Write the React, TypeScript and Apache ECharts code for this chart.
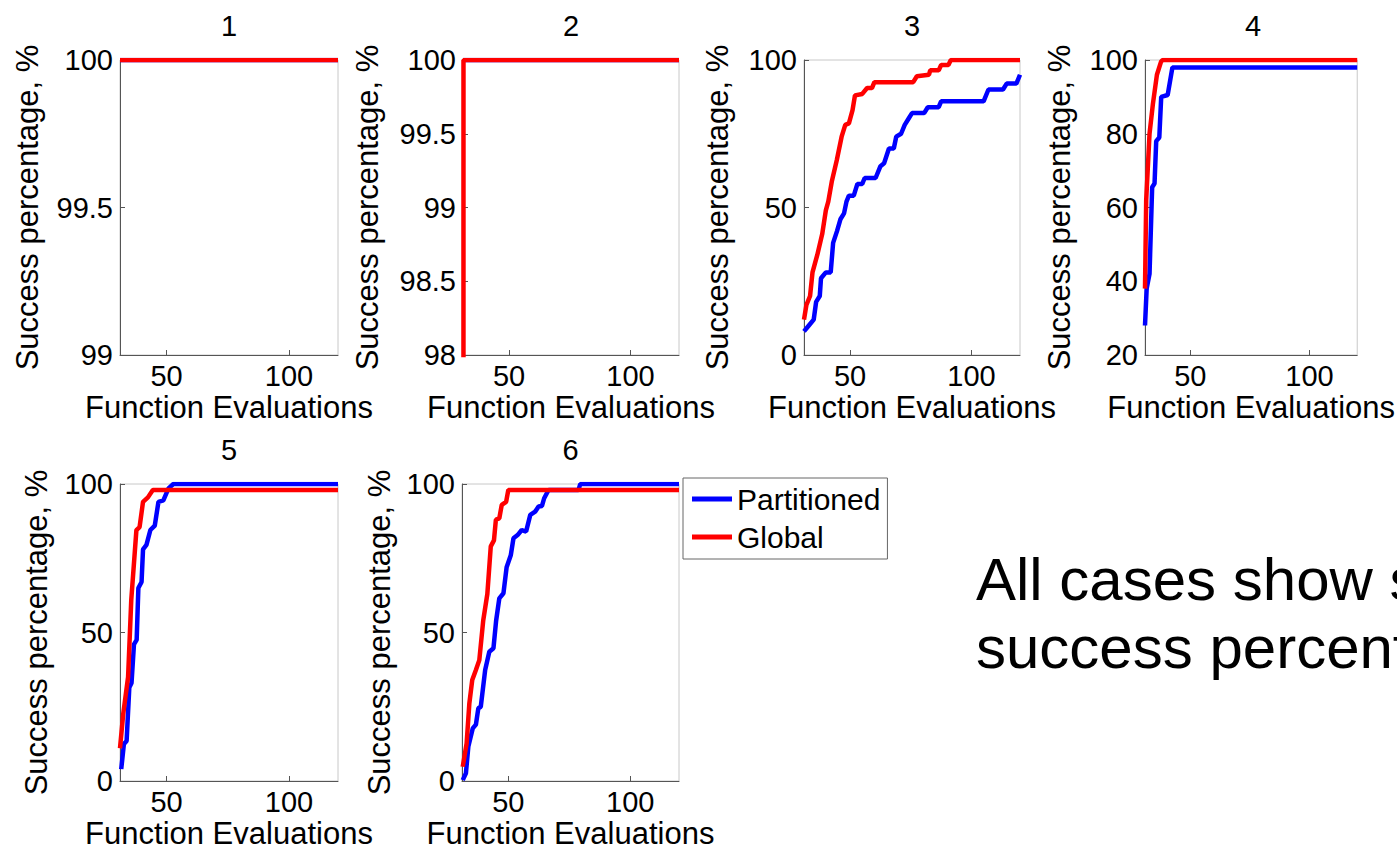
import React, { useEffect, useRef } from "react";
import * as echarts from "echarts";

const FONT = "'Liberation Sans', Arial, Helvetica, sans-serif";

const X_MIN = 31;
const X_MAX = 120;
const xTickValues = [50, 100];
const seriesNames = ["Partitioned", "Global"];
const panelTitles = ["1", "2", "3", "4", "5", "6"];
const yAxisName = "Success percentage, %";
const xAxisName = "Function Evaluations";
const noteLines = ["All cases show s", "success percent"];

// [min, max, interval] of each panel's y axis
const yRanges = [
  [99, 100, 0.5],
  [98, 100, 0.5],
  [0, 100, 50],
  [20, 100, 20],
  [0, 100, 50],
  [0, 100, 50],
];

const case1Partitioned = [[31, 100], [120, 100]];
const case1Global = [[31, 100], [120, 100]];

const case2Partitioned = [[31, 100], [120, 100]];
const case2Global = [[31, 0], [31.2, 100], [120, 100]];

const case3Partitioned = [
  [31, 8], [33, 10], [35, 12], [36, 18], [37.5, 20], [38, 26], [40, 28], [42, 28],
  [43, 38], [44.6, 42], [46, 46], [47.5, 48], [48.5, 52], [49.5, 54], [51.5, 54],
  [53, 58], [55, 58], [56, 60], [60.5, 60], [62.5, 64], [64, 65], [66, 70], [68, 70],
  [69, 74], [71, 75], [72.5, 78], [74, 80], [75.5, 82], [80.5, 82], [82, 84],
  [86.5, 84], [87.5, 86], [105, 86], [107, 90], [113, 90], [114.5, 92], [118.5, 92],
  [120, 95],
];
const case3Global = [
  [31, 12], [32, 17], [33.5, 20], [34.5, 28], [36.5, 34], [38.5, 41], [40, 49],
  [41, 52], [42.5, 59], [44.5, 66], [46.5, 74], [48, 78], [49.5, 78.5], [51, 83],
  [52, 88], [55, 88.5], [57, 90.5], [59, 90.5], [60, 92.5], [76, 92.5], [77.5, 94.5],
  [82.5, 95], [83, 96.5], [86.5, 96.5], [87.5, 98.3], [90.5, 98.3], [91.5, 100],
  [120, 100],
];

const case4Partitioned = [
  [31, 28], [31.7, 38], [32.9, 42], [34, 65.5], [35, 66.5], [35.7, 78], [37, 79],
  [37.8, 90], [40.5, 90.5], [42.5, 98], [120, 98],
];
const case4Global = [
  [31, 38], [31.5, 62], [32.9, 80], [34.3, 88], [36, 96], [37.7, 99.5], [38.4, 100],
  [120, 100],
];

const case5Partitioned = [
  [31.5, 4], [32.6, 12.5], [33.7, 13.5], [34.8, 31.5], [35.7, 33], [36.7, 46],
  [37.8, 47.5], [38.5, 65], [39.8, 67], [40.4, 78], [41.8, 79.5], [43.4, 84.5],
  [45.2, 86], [46.7, 94], [48.7, 94.5], [50.8, 98.5], [52.8, 100], [120, 100],
];
const case5Global = [
  [31, 11], [32.3, 22.5], [34.3, 35], [35.6, 61], [37.7, 84.5], [39, 85.5],
  [40.4, 94], [42.4, 95.5], [44.4, 98], [120, 98],
];

const case6Partitioned = [
  [31.3, 0.3], [32.6, 2.6], [33.6, 11.6], [35.4, 17.7], [36.7, 19], [37.7, 24.5],
  [38.7, 25], [40.5, 37.4], [42.2, 43.5], [43.9, 44.7], [45, 54], [46.3, 61.5],
  [48, 63.2], [49.3, 72], [51, 76], [52.1, 81.7], [53.8, 82.8], [55.5, 84.5],
  [57.3, 84], [59, 89.6], [61, 90.7], [62.4, 92.4], [63.8, 92.6], [64.7, 95.2],
  [66.5, 98], [78.8, 98], [79.5, 100], [120, 100],
];
const case6Global = [
  [31.3, 4.8], [32.9, 12.7], [34, 26], [35.2, 34], [36.7, 37.4], [38.1, 40.7],
  [39.7, 54], [41.4, 63], [42.8, 79], [44.1, 81], [44.9, 88], [46.3, 88.4],
  [47.3, 93], [49.1, 94], [50, 98], [120, 98],
];

const partitionedData = [
  case1Partitioned, case2Partitioned, case3Partitioned,
  case4Partitioned, case5Partitioned, case6Partitioned,
];
const globalData = [
  case1Global, case2Global, case3Global, case4Global, case5Global, case6Global,
];

export default function App() {
  const ref = useRef<HTMLDivElement>(null);

  useEffect(() => {
    if (!ref.current) return;
    const chart = echarts.init(ref.current, null, { renderer: "svg" });

    const grids = [
      { left: 120, top: 60, width: 218, height: 295 },
      { left: 463, top: 60, width: 216, height: 295 },
      { left: 804, top: 60, width: 216, height: 295 },
      { left: 1145, top: 60, width: 216, height: 295 },
      { left: 120, top: 484, width: 218, height: 297 },
      { left: 462, top: 484, width: 217, height: 297 },
    ];
    const yNameGaps = [77, 80, 71, 70, 68, 67];
    const axisColor = "#555555";

    const option: any = {
      animation: false,
      backgroundColor: "#ffffff",
      grid: grids.map((g) => ({
        ...g,
        show: true,
        borderColor: "#c8c8c8",
        borderWidth: 1,
        backgroundColor: "transparent",
      })),
      xAxis: grids.map((_, i) => ({
        type: "value",
        gridIndex: i,
        min: X_MIN,
        max: X_MAX,
        splitLine: { show: false },
        axisLine: { show: true, onZero: false, lineStyle: { color: axisColor, width: 1 } },
        axisTick: {
          show: true,
          inside: true,
          length: 5,
          customValues: xTickValues,
          lineStyle: { color: axisColor },
        },
        axisLabel: {
          customValues: xTickValues,
          color: "#000",
          fontSize: 29,
          fontFamily: FONT,
          margin: 6,
        },
        name: xAxisName,
        nameLocation: "middle",
        nameGap: 37,
        nameTextStyle: { color: "#000", fontSize: 31, fontFamily: FONT },
      })),
      yAxis: grids.map((_, i) => ({
        type: "value",
        gridIndex: i,
        min: yRanges[i][0],
        max: yRanges[i][1],
        interval: yRanges[i][2],
        splitLine: { show: false },
        axisLine: { show: true, onZero: false, lineStyle: { color: axisColor, width: 1 } },
        axisTick: { show: true, inside: true, length: 5, lineStyle: { color: axisColor } },
        axisLabel: { color: "#000", fontSize: 29, fontFamily: FONT, margin: 7 },
        name: yAxisName,
        nameLocation: "middle",
        nameRotate: 90,
        nameGap: yNameGaps[i],
        nameTextStyle: { color: "#000", fontSize: 31, fontFamily: FONT },
      })),
      legend: {
        orient: "vertical",
        left: 683,
        top: 478,
        data: seriesNames,
        selectedMode: false,
        icon: "rect",
        itemWidth: 40,
        itemHeight: 5,
        itemGap: 8,
        padding: [6, 7, 7, 9],
        borderColor: "#666",
        borderWidth: 1,
        backgroundColor: "#fff",
        textStyle: { fontSize: 30, fontFamily: FONT, color: "#000" },
      },
      series: [
        ...partitionedData.map((d, i) => ({
          type: "line",
          name: seriesNames[0],
          xAxisIndex: i,
          yAxisIndex: i,
          data: d,
          showSymbol: false,
          symbol: "none",
          clip: true,
          z: 2,
          lineStyle: { color: "#0000ff", width: 4.5 },
          itemStyle: { color: "#0000ff" },
        })),
        ...globalData.map((d, i) => ({
          type: "line",
          name: seriesNames[1],
          xAxisIndex: i,
          yAxisIndex: i,
          data: d,
          showSymbol: false,
          symbol: "none",
          clip: true,
          z: 3,
          lineStyle: { color: "#ff0000", width: 4.5 },
          itemStyle: { color: "#ff0000" },
        })),
      ],
      graphic: [
        ...panelTitles.map((t, i) => ({
          type: "text",
          x: grids[i].left + grids[i].width / 2,
          y: grids[i].top - 34,
          style: {
            text: t,
            font: `29px ${FONT}`,
            fontSize: 29,
            fontFamily: FONT,
            fill: "#000",
            textAlign: "center",
            textVerticalAlign: "middle",
            align: "center",
            verticalAlign: "middle",
          },
        })),
        ...noteLines.map((t, i) => ({
          type: "text",
          x: 976,
          y: 579 + i * 68,
          style: {
            text: t,
            font: `60px ${FONT}`,
            fontSize: 60,
            fontFamily: FONT,
            fill: "#000",
            textAlign: "left",
            textVerticalAlign: "middle",
            align: "left",
            verticalAlign: "middle",
          },
        })),
      ],
    };

    chart.setOption(option);
    return () => chart.dispose();
  }, []);

  return (
    <div
      ref={ref}
      style={{ position: "absolute", left: 0, top: 0, width: 1397, height: 852, background: "#fff" }}
    />
  );
}
